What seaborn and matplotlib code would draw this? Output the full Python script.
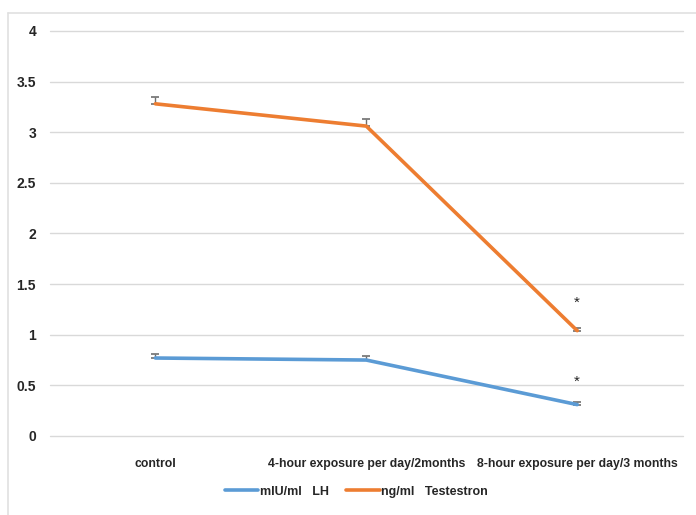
import matplotlib
matplotlib.use("Agg")
import matplotlib.pyplot as plt
from matplotlib.lines import Line2D
import seaborn as sns
import pandas as pd

groups = ["control", "4-hour exposure per day/2months", "8-hour exposure per day/3 months"]
lh_values = [0.77, 0.75, 0.31]
lh_err = [0.04, 0.04, 0.03]
testo_values = [3.28, 3.06, 1.04]
testo_err = [0.07, 0.07, 0.03]
star_lh = [None, None, 0.54]
star_testo = [None, None, 1.32]
series_names = ["mIU/ml   LH", "ng/ml   Testestron"]
y_ticks = [0, 0.5, 1, 1.5, 2, 2.5, 3, 3.5, 4]

blue = "#5B9BD5"
orange = "#ED7D31"

df = pd.DataFrame({
    "group": groups * 2,
    "pos": list(range(len(groups))) * 2,
    "value": lh_values + testo_values,
    "err": lh_err + testo_err,
    "series": [series_names[0]] * 3 + [series_names[1]] * 3,
})

sns.set_style("white")
plt.rcParams['font.family'] = ['Liberation Sans', 'DejaVu Sans']

fig = plt.figure(figsize=(6.96, 5.15), dpi=100)
ax = fig.add_axes([0.0718, 0.1534, 0.909, 0.7866])

sns.lineplot(data=df, x="pos", y="value", hue="series",
             palette=[blue, orange], linewidth=2.6, ax=ax, legend=False)

# upper error caps only
for name in series_names:
    sub = df[df.series == name]
    ax.errorbar(sub.pos, sub.value, yerr=[[0] * len(sub), sub.err],
                fmt="none", ecolor="#6f6f6f", elinewidth=1, capsize=3, capthick=1.2, zorder=1)

for i, (a, b) in enumerate(zip(star_lh, star_testo)):
    for s in (a, b):
        if s is not None:
            ax.text(i, s, "*", ha="center", va="center", fontsize=11, color="#222222")

ax.set_xlim(-0.5, 2.5)
ax.set_ylim(0, 4)
ax.set_yticks(y_ticks)
ax.set_yticklabels([f"{t:g}" for t in y_ticks], fontsize=10, fontweight="bold")
ax.set_xticks(range(len(groups)))
ax.set_xticklabels(groups, fontsize=8.8, fontweight="bold")
ax.tick_params(axis="y", length=0, pad=10)
ax.tick_params(axis="x", length=0, pad=16)
ax.set_xlabel("")
ax.set_ylabel("")
ax.grid(axis="y", color="#d9d9d9", linewidth=1)
for gl in ax.get_ygridlines():
    gl.set_clip_on(False)
ax.set_axisbelow(True)
for sp in ax.spines.values():
    sp.set_visible(False)

handles = [Line2D([], [], color=blue, lw=2.6), Line2D([], [], color=orange, lw=2.6)]
fig.legend(handles, series_names, loc="center", bbox_to_anchor=(0.512, 0.045),
           ncol=2, frameon=False, prop={"weight": "bold", "size": 9},
           handlelength=2.7, handletextpad=0.1, columnspacing=1.4)

# light chart-area frame
fig.add_artist(Line2D([8 / 696, 8 / 696], [0, 1 - 13 / 515], color="#e0e0e0", lw=1.2))
fig.add_artist(Line2D([8 / 696, 1], [1 - 13 / 515, 1 - 13 / 515], color="#e0e0e0", lw=1.2))

fig.savefig("out.png", dpi=100)
